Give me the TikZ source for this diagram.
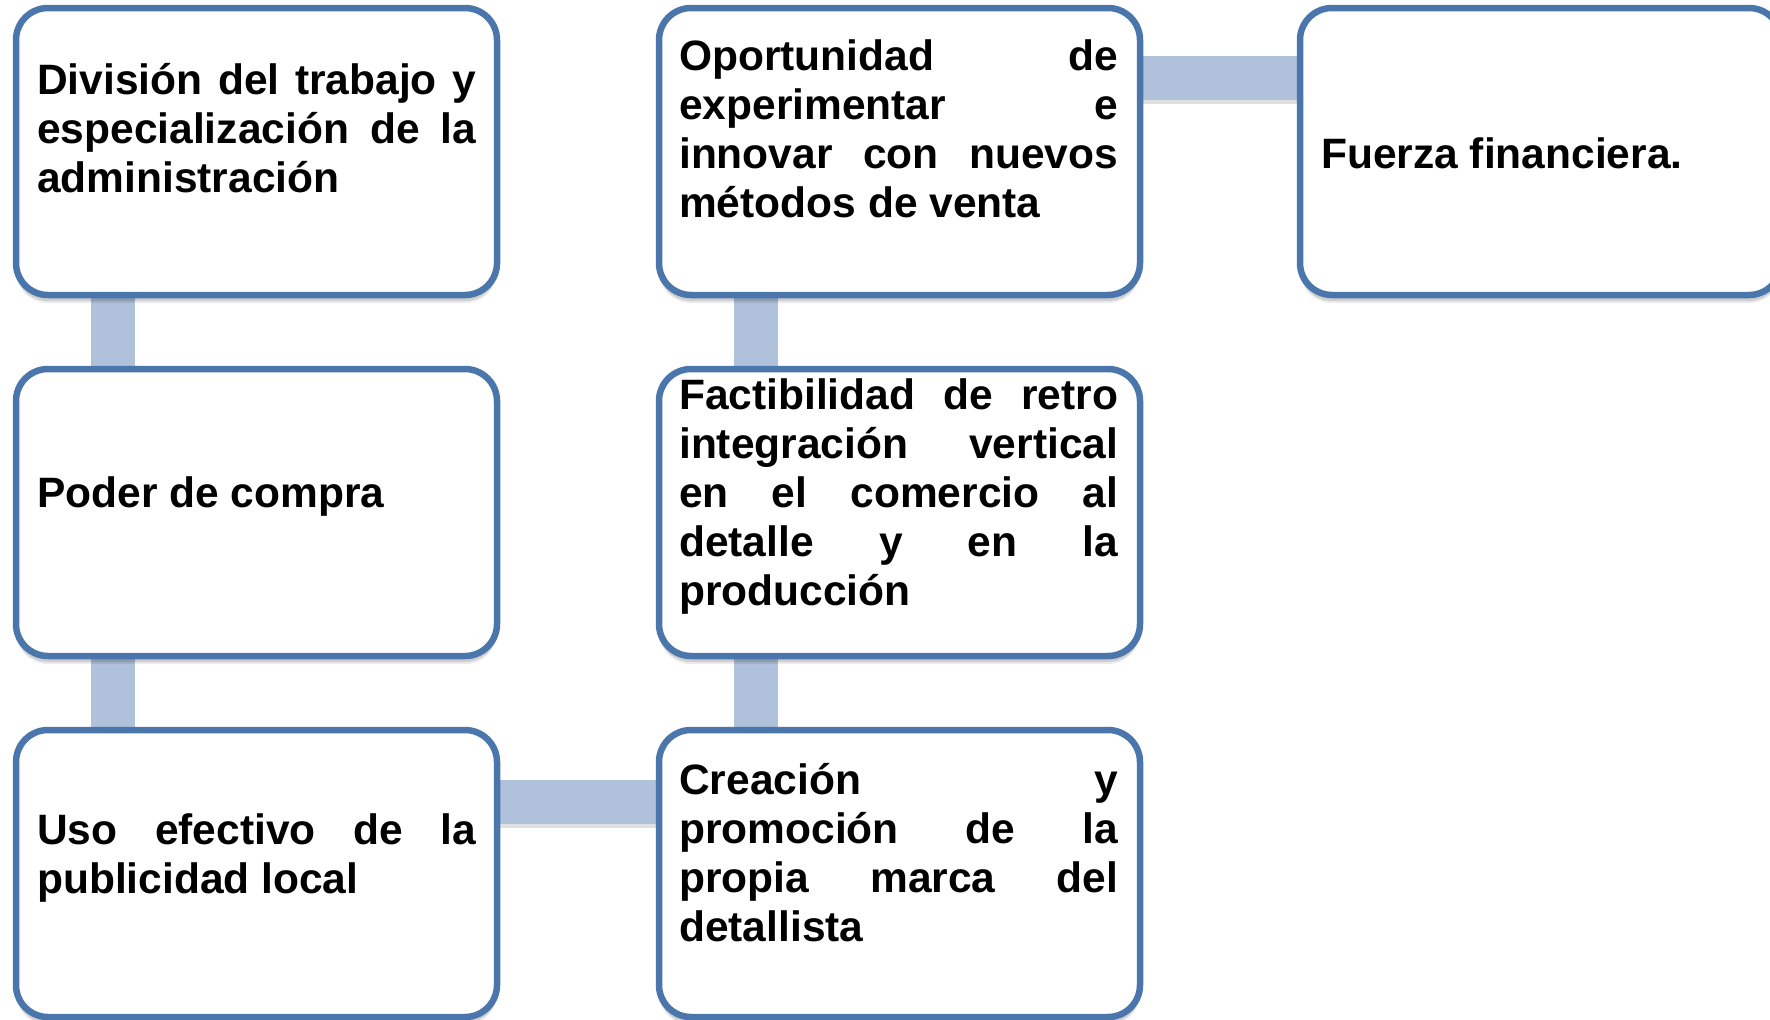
\documentclass[tikz,border=0pt]{standalone}
\usepackage{fontspec}
\setmainfont{Liberation Sans}
\usetikzlibrary{shadows}
\definecolor{bordc}{RGB}{74,118,172}
\definecolor{barc}{RGB}{176,193,219}
\newcommand{\jline}[1]{\hbox to 439pt{#1}}
\pgfdeclarelayer{background}
\pgfsetlayers{background,main}
\begin{document}
\begin{tikzpicture}[x=1pt,y=-1pt,
  card/.style={draw=bordc, line width=6.5pt, fill=white, rounded corners=32pt,
    minimum width=481pt, minimum height=287pt, anchor=north west,
    inner sep=0pt, outer sep=0pt,
    drop shadow={shadow xshift=0pt, shadow yshift=-8pt, opacity=.08, fill=black},
    drop shadow={shadow xshift=0pt, shadow yshift=-6pt, opacity=.12, fill=black}},
  barlink/.style={fill=barc,
    drop shadow={shadow xshift=0pt, shadow yshift=-4pt, opacity=.12, fill=black}},
  txt/.style={anchor=base west, inner sep=0pt, font=\fontsize{42.5}{49.2}\selectfont\bfseries}]
\begin{pgfonlayer}{background}
\fill[white] (0,0) rectangle (1770,1020);
\end{pgfonlayer}
\useasboundingbox (0,0) rectangle (1770,1020);
% boxes
\node[card] (b1) at (16,8) {};
\node[card] (b2) at (659,8) {};
\node[card] (b3) at (1300,8) {};
\node[card] (b4) at (16,369) {};
\node[card] (b5) at (659,369) {};
\node[card] (b7) at (16,730) {};
\node[card] (b8) at (659,730) {};
% connectors
\begin{pgfonlayer}{background}
\fill[barlink] ([xshift=75pt]b1.south west) rectangle ([xshift=119pt]b4.north west);
\fill[barlink] ([xshift=75pt]b4.south west) rectangle ([xshift=119pt]b7.north west);
\fill[barlink] ([xshift=75pt]b2.south west) rectangle ([xshift=119pt]b5.north west);
\fill[barlink] ([xshift=75pt]b5.south west) rectangle ([xshift=119pt]b8.north west);
\fill[barlink] ([yshift=-48pt]b2.north east) rectangle ([yshift=-92pt]b3.north west);
\fill[barlink] ([yshift=-50pt]b7.north east) rectangle ([yshift=-94pt]b8.north west);
\end{pgfonlayer}
% texts
\node[txt] (t1) at (37,94.3) {\vtop{%
  \jline{División\hfill del\hfill trabajo\hfill y}
  \jline{especialización\hfill de\hfill la}
  \jline{administración\hfil}}};
\node[txt] (t2) at (679,70.3) {\vtop{%
  \jline{Oportunidad\hfill de}
  \jline{experimentar\hfill e}
  \jline{innovar\hfill con\hfill nuevos}
  \jline{métodos de venta\hfil}}};
\node[txt] (t3) at (1321,168.5) {Fuerza financiera.};
\node[txt] (t4) at (37,507) {Poder de compra};
\node[txt] (t5) at (679,409) {\vtop{%
  \jline{Factibilidad\hfill de\hfill retro}
  \jline{integración\hfill vertical}
  \jline{en\hfill el\hfill comercio\hfill al}
  \jline{detalle\hfill y\hfill en\hfill la}
  \jline{producción\hfil}}};
\node[txt] (t7) at (37,844.7) {\vtop{%
  \jline{Uso\hfill efectivo\hfill de\hfill la}
  \jline{publicidad local\hfil}}};
\node[txt] (t8) at (679,794) {\vtop{%
  \jline{Creación\hfill y}
  \jline{promoción\hfill de\hfill la}
  \jline{propia\hfill marca\hfill del}
  \jline{detallista\hfil}}};
\end{tikzpicture}
\end{document}
